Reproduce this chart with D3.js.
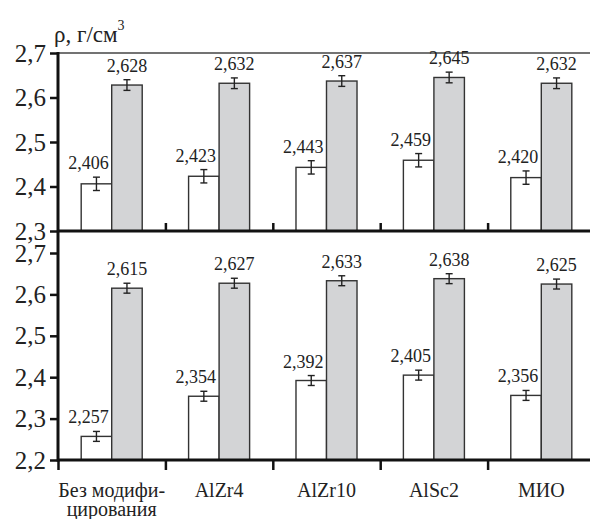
<!DOCTYPE html>
<html>
<head>
<meta charset="utf-8">
<script src="https://cdn.jsdelivr.net/npm/d3@7"></script>
</head>
<body style="margin:0">
<script>
// data
var categories = ["Без модифи-|цирования", "AlZr4", "AlZr10", "AlSc2", "МИО"];
var topWhite   = [2.406, 2.423, 2.443, 2.459, 2.420];
var topGray    = [2.628, 2.632, 2.637, 2.645, 2.632];
var topWhiteErr = [0.015, 0.015, 0.015, 0.015, 0.015];
var topGrayErr  = [0.012, 0.012, 0.012, 0.012, 0.012];
var botWhite   = [2.257, 2.354, 2.392, 2.405, 2.356];
var botGray    = [2.615, 2.627, 2.633, 2.638, 2.625];
var botWhiteErr = [0.012, 0.012, 0.012, 0.012, 0.012];
var botGrayErr  = [0.012, 0.012, 0.012, 0.012, 0.012];
var topTicks = [2.3, 2.4, 2.5, 2.6, 2.7];
var botTicks = [2.2, 2.3, 2.4, 2.5, 2.6, 2.7];

var width = 590, height = 519;
var left = 58, right = 595;
var FONT = 'Liberation Serif, Times, serif';

var svg = d3.select('body').append('svg').attr('width', width).attr('height', height)
  .attr('font-family', FONT);

var x0 = d3.scaleBand().domain(d3.range(categories.length)).range([left, right]).padding(0);
var x1 = d3.scaleBand().domain(['w', 'g']).range([0, x0.bandwidth()]).paddingInner(0).paddingOuter(0.76);
var xEdge = d3.scaleLinear().domain([0, categories.length]).range([left, right]);

var yTop = d3.scaleLinear().domain([2.3, 2.7]).range([231, 53]);
var yBot = d3.scaleLinear().domain([2.2, 2.7]).range([460, 253]);

var fmt = function(d){ return d.toFixed(1).replace('.', ','); };
var fmt3 = function(d){ return d.toFixed(3).replace('.', ','); };

// top frame line
svg.append('line')
  .attr('x1', left).attr('x2', width).attr('y1', yTop(2.7)).attr('y2', yTop(2.7))
  .attr('stroke', '#444').attr('stroke-width', 1.3);

function drawPanel(y, white, gray, wErr, gErr, ticks){
  var g = svg.append('g');

  var groups = g.selectAll('g.cat').data(categories).enter().append('g')
    .attr('transform', function(d, i){ return 'translate(' + x0(i) + ',0)'; });

  // white bars
  groups.append('rect')
    .attr('x', x1('w')).attr('width', x1.bandwidth())
    .attr('y', function(d, i){ return y(white[i]); })
    .attr('height', function(d, i){ return y.range()[0] - y(white[i]); })
    .attr('fill', '#fff').attr('stroke', '#333').attr('stroke-width', 1.4);

  // gray bars
  groups.append('rect')
    .attr('x', x1('g')).attr('width', x1.bandwidth())
    .attr('y', function(d, i){ return y(gray[i]); })
    .attr('height', function(d, i){ return y.range()[0] - y(gray[i]); })
    .attr('fill', '#d3d4d6').attr('stroke', '#333').attr('stroke-width', 1.4);

  // error bars
  function errBar(key, vals, errs){
    var cx = x1(key) + x1.bandwidth() / 2;
    var eb = groups.append('g').attr('stroke', '#222').attr('stroke-width', 1.4);
    eb.append('line').attr('x1', cx).attr('x2', cx)
      .attr('y1', function(d, i){ return y(vals[i] + errs[i]); })
      .attr('y2', function(d, i){ return y(vals[i] - errs[i]); });
    eb.append('line').attr('x1', cx - 3.5).attr('x2', cx + 3.5)
      .attr('y1', function(d, i){ return y(vals[i] + errs[i]); })
      .attr('y2', function(d, i){ return y(vals[i] + errs[i]); });
    eb.append('line').attr('x1', cx - 3.5).attr('x2', cx + 3.5)
      .attr('y1', function(d, i){ return y(vals[i] - errs[i]); })
      .attr('y2', function(d, i){ return y(vals[i] - errs[i]); });
  }
  errBar('w', white, wErr);
  errBar('g', gray, gErr);

  // value labels
  groups.append('text')
    .attr('x', x1('w') + x1.bandwidth() - 3)
    .attr('y', function(d, i){ return y(white[i] + wErr[i]) - 8; })
    .attr('text-anchor', 'end').attr('fill', '#222')
    .attr('font-family', FONT).attr('font-size', 18)
    .text(function(d, i){ return fmt3(white[i]); });
  groups.append('text')
    .attr('x', x1('g') + x1.bandwidth() / 2)
    .attr('y', function(d, i){ return y(gray[i] + gErr[i]) - 8; })
    .attr('text-anchor', 'middle').attr('fill', '#222')
    .attr('font-family', FONT).attr('font-size', 18)
    .text(function(d, i){ return fmt3(gray[i]); });

  // y axis ticks and labels
  var ya = g.append('g').attr('transform', 'translate(' + left + ',0)')
    .call(d3.axisLeft(y).tickValues(ticks).tickFormat(fmt).tickSize(8).tickSizeOuter(0));
  ya.attr('font-family', null).attr('font-size', null);
  ya.select('.domain').remove();
  ya.selectAll('.tick line').attr('stroke', '#111').attr('stroke-width', 2.5);
  ya.selectAll('.tick text').attr('fill', '#222').attr('x', -12)
    .attr('font-family', FONT).attr('font-size', 25);
  return g;
}

drawPanel(yTop, topWhite, topGray, topWhiteErr, topGrayErr, topTicks);
drawPanel(yBot, botWhite, botGray, botWhiteErr, botGrayErr, botTicks);

// baselines
[yTop.range()[0], yBot.range()[0]].forEach(function(yy){
  svg.append('line').attr('x1', left).attr('x2', width).attr('y1', yy).attr('y2', yy)
    .attr('stroke', '#111').attr('stroke-width', 3);
});

// category separator ticks, top panel (pointing up)
var tt = svg.append('g').attr('transform', 'translate(0,' + yTop.range()[0] + ')')
  .call(d3.axisTop(xEdge).tickValues([1, 2, 3, 4]).tickSize(8).tickFormat(''));
tt.select('.domain').remove();
tt.selectAll('.tick line').attr('stroke', '#111').attr('stroke-width', 2.5);

// category separator ticks, bottom panel (pointing down)
var bt = svg.append('g').attr('transform', 'translate(0,' + yBot.range()[0] + ')')
  .call(d3.axisBottom(xEdge).tickValues([0, 1, 2, 3, 4]).tickSize(10).tickFormat(''));
bt.select('.domain').remove();
bt.selectAll('.tick line').attr('stroke', '#111').attr('stroke-width', 2.5);

// left axis line
svg.append('line').attr('x1', left).attr('x2', left).attr('y1', yTop(2.7) - 1).attr('y2', yBot.range()[0] + 1.5)
  .attr('stroke', '#111').attr('stroke-width', 3);

// category labels (first line, then the wrapped second line)
categories.forEach(function(c, i){
  c.split('|').forEach(function(p, k){
    svg.append('text')
      .attr('x', x0(i) + x0.bandwidth() / 2)
      .attr('y', 497 + k * 19)
      .attr('text-anchor', 'middle').attr('fill', '#222')
      .attr('font-family', FONT).attr('font-size', 20)
      .text(p);
  });
});

// axis title with superscript
var title = svg.append('text').attr('x', 54).attr('y', 42).attr('fill', '#222')
  .attr('font-family', FONT).attr('font-size', 23);
title.append('tspan').text('ρ, г/см');
title.append('tspan').attr('font-size', 14).attr('dy', -12).text('3');
</script>
</body>
</html>
